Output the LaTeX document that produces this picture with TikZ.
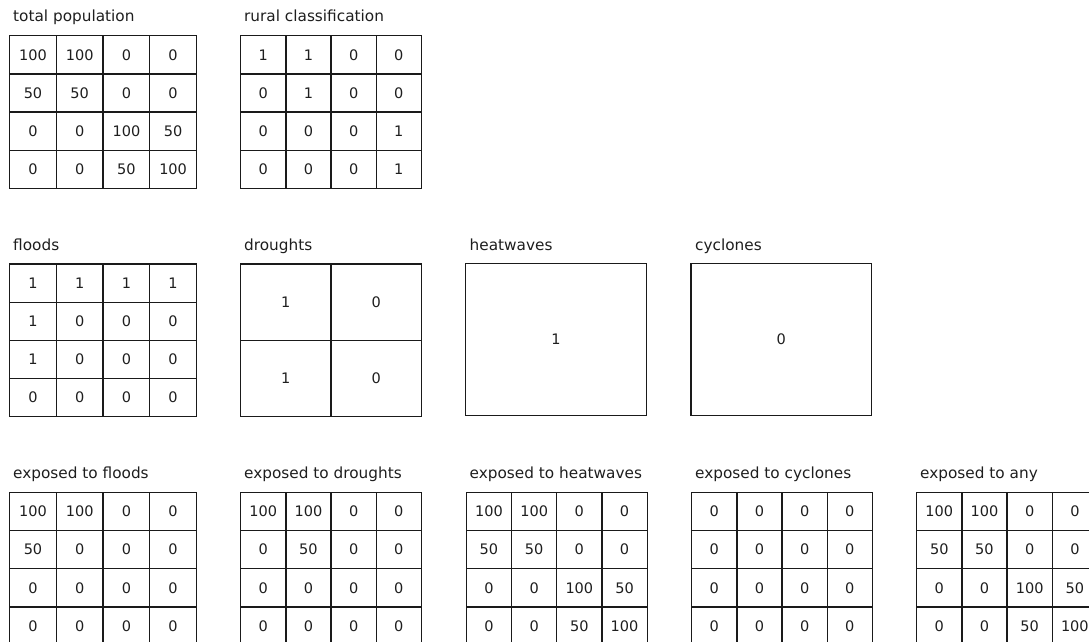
\documentclass[tikz,border=0pt]{standalone}
\usepackage{fontspec}
\setmainfont{DejaVu Sans}
\usepackage{tikz}
\usetikzlibrary{matrix}
\definecolor{gridline}{HTML}{1A1A1A}
\definecolor{labeltext}{HTML}{1E1E1E}
\tikzset{
  cell/.style={draw=gridline, line width=1.3pt, inner sep=0pt, outer sep=0pt, minimum width=45.2pt, minimum height=38.2pt, text=labeltext},
  valgrid/.style={matrix of nodes, anchor=north west, inner sep=0pt, outer sep=0pt, column sep=-1.3pt, row sep=-1.3pt, nodes={cell}},
  widegrid/.style={valgrid, nodes={minimum width=46.7pt}},
  maptitle/.style={anchor=base west, inner sep=0pt, text=labeltext, font=\fontsize{15.3}{18}\selectfont},
  bigcell/.style={cell, anchor=north west, minimum width=180.7pt, minimum height=152.4pt}
}

\begin{document}
\begin{tikzpicture}[x=1pt, y=-1pt, font=\fontsize{14.5}{17}\selectfont]
  \useasboundingbox (0,0) rectangle (1089,641);

  % row 1: population and rural mask
  \node[maptitle] (poptitle) at (13,21.5) {total population};
  \matrix[widegrid] (pop) at (9,35) {
    100 & 100 & 0 & 0 \\
    50 & 50 & 0 & 0 \\
    0 & 0 & 100 & 50 \\
    0 & 0 & 50 & 100 \\
  };
  \node[maptitle] (ruraltitle) at (244,21.5) {rural classification};
  \matrix[valgrid] (rural) at (240,35) {
    1 & 1 & 0 & 0 \\
    0 & 1 & 0 & 0 \\
    0 & 0 & 0 & 1 \\
    0 & 0 & 0 & 1 \\
  };

  % row 2: hazard layers
  \node[maptitle] (floodtitle) at (13,250) {floods};
  \matrix[widegrid] (flood) at (9,263.3) {
    1 & 1 & 1 & 1 \\
    1 & 0 & 0 & 0 \\
    1 & 0 & 0 & 0 \\
    0 & 0 & 0 & 0 \\
  };
  \node[maptitle] (droughttitle) at (244,250) {droughts};
  \matrix[valgrid, nodes={minimum width=90.35pt, minimum height=76.2pt}] (drought) at (240,263.3) {
    1 & 0 \\
    1 & 0 \\
  };
  \node[maptitle] (heattitle) at (469.5,250) {heatwaves};
  \node[bigcell] (heat) at (465.7,263.3) {1};
  \node[maptitle] (cyclonetitle) at (695,250) {cyclones};
  \node[bigcell] (cyclone) at (691,263.3) {0};

  % row 3: exposure results
  \node[maptitle] (expfloodtitle) at (13,478.5) {exposed to floods};
  \matrix[widegrid] (expflood) at (9,491.7) {
    100 & 100 & 0 & 0 \\
    50 & 0 & 0 & 0 \\
    0 & 0 & 0 & 0 \\
    0 & 0 & 0 & 0 \\
  };
  \node[maptitle] (expdroughttitle) at (244,478.5) {exposed to droughts};
  \matrix[valgrid] (expdrought) at (240,491.7) {
    100 & 100 & 0 & 0 \\
    0 & 50 & 0 & 0 \\
    0 & 0 & 0 & 0 \\
    0 & 0 & 0 & 0 \\
  };
  \node[maptitle] (expheattitle) at (469.5,478.5) {exposed to heatwaves};
  \matrix[valgrid] (expheat) at (465.7,491.7) {
    100 & 100 & 0 & 0 \\
    50 & 50 & 0 & 0 \\
    0 & 0 & 100 & 50 \\
    0 & 0 & 50 & 100 \\
  };
  \node[maptitle] (expcyclonetitle) at (695,478.5) {exposed to cyclones};
  \matrix[valgrid] (expcyclone) at (691,491.7) {
    0 & 0 & 0 & 0 \\
    0 & 0 & 0 & 0 \\
    0 & 0 & 0 & 0 \\
    0 & 0 & 0 & 0 \\
  };
  \node[maptitle] (expanytitle) at (920,478.5) {exposed to any};
  \matrix[valgrid] (expany) at (916,491.7) {
    100 & 100 & 0 & 0 \\
    50 & 50 & 0 & 0 \\
    0 & 0 & 100 & 50 \\
    0 & 0 & 50 & 100 \\
  };
\end{tikzpicture}
\end{document}
